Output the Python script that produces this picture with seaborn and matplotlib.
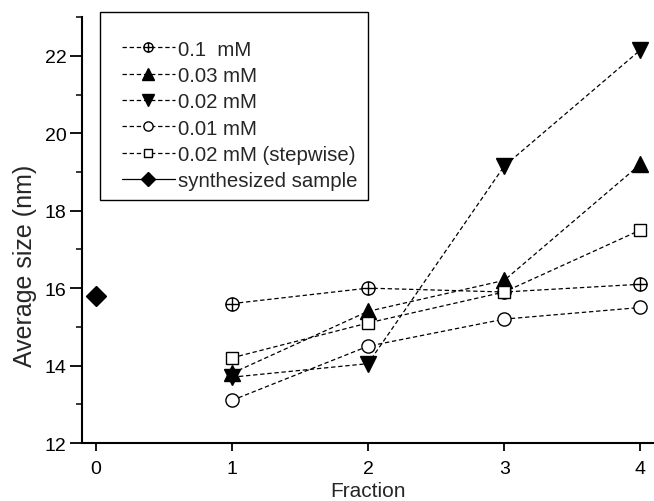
import numpy as np
import pandas as pd
import matplotlib
matplotlib.use("Agg")
import matplotlib.pyplot as plt
from matplotlib.path import Path
from matplotlib.lines import Line2D
from matplotlib.legend_handler import HandlerLine2D
import seaborn as sns

# ---- data ----
fractions = [1, 2, 3, 4]
s_01mM = [15.6, 16.0, 15.9, 16.1]
s_003mM = [13.8, 15.4, 16.2, 19.2]
s_002mM = [13.7, 14.05, 19.15, 22.15]
s_001mM = [13.1, 14.5, 15.2, 15.5]
s_002mM_step = [14.2, 15.1, 15.9, 17.5]
synth_x = [0]
synth_y = [15.8]

labels = ["0.1  mM", "0.03 mM", "0.02 mM", "0.01 mM", "0.02 mM (stepwise)", "synthesized sample"]

sns.set_style("ticks")
plt.rcParams['font.family'] = ['Liberation Sans', 'DejaVu Sans']
plt.rcParams['font.size'] = 14

# circle-with-plus marker
circ = Path.unit_circle()
cross = Path([(-1, 0), (1, 0), (0, -1), (0, 1)],
             [Path.MOVETO, Path.LINETO, Path.MOVETO, Path.LINETO])
oplus = Path.make_compound_path(circ, cross)

fig = plt.figure(figsize=(6.54, 5.02), dpi=100)
ax = fig.add_axes([0.1254, 0.1155, 0.8746, 0.8485])

dash = (0, (3.5, 2.2))
lw = 0.9
common = dict(color="black", linewidth=lw, markeredgecolor="black", markeredgewidth=1.0)

series = [
    (s_01mM, oplus, "white", 9.5),
    (s_003mM, "^", "black", 11.5),
    (s_002mM, "v", "black", 11.5),
    (s_001mM, "o", "white", 9.5),
    (s_002mM_step, "s", "white", 9),
]
for (vals, mk, fc, ms), lab in zip(series, labels[:5]):
    sns.lineplot(x=fractions, y=vals, ax=ax, label=lab, marker=mk,
                 markerfacecolor=fc, markersize=ms, linestyle=dash, **common)

sns.lineplot(x=synth_x, y=synth_y, ax=ax, label=labels[5], marker="D",
             markerfacecolor="black", markersize=10, linestyle="-", **common)

ax.set_xlim(-0.1, 4.1)
ax.set_ylim(12, 23)
ax.set_xticks([0, 1, 2, 3, 4])
ax.set_yticks([12, 14, 16, 18, 20, 22])
ax.set_yticks([13, 15, 17, 19, 21, 23], minor=True)
ax.tick_params(axis="both", which="major", width=1.3, direction="out",
               labelsize=14, colors="black")
ax.tick_params(axis="x", which="major", length=6, pad=6)
ax.tick_params(axis="y", which="major", length=9, pad=2)
ax.tick_params(axis="y", which="minor", length=4.5, width=1.3, direction="out")
for s in ["top", "right"]:
    ax.spines[s].set_visible(False)
for s in ["left", "bottom"]:
    ax.spines[s].set_linewidth(1.5)
    ax.spines[s].set_color("black")

ax.set_xlabel("Fraction", fontsize=15, labelpad=3)
ax.set_ylabel("Average size (nm)", fontsize=18)
ax.yaxis.set_label_coords(-0.079, 0.418)

leg = ax.legend(loc="upper left", bbox_to_anchor=(0.031, 1.012), borderaxespad=0,
                frameon=True, fancybox=False, framealpha=1, edgecolor="black",
                fontsize=14.7, markerscale=0.7, handlelength=3.18, handletextpad=0.15,
                labelspacing=0.36, borderpad=0.5, title=" ", title_fontsize=7,
                handler_map={Line2D: HandlerLine2D(xpad=0.58)})
leg.get_frame().set_linewidth(1.0)

fig.savefig("out.png", dpi=100)
